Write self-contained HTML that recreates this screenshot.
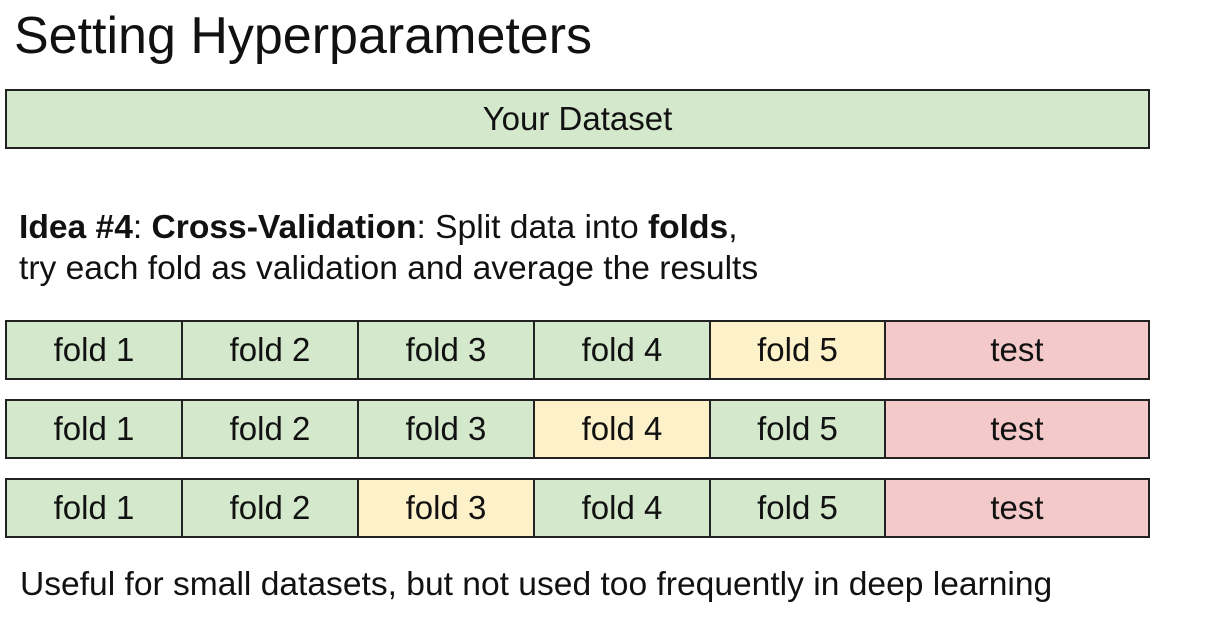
<!DOCTYPE html>
<html><head><meta charset="utf-8"><style>
body{margin:0;width:1230px;height:618px;background:#fff;position:relative;overflow:hidden;font-family:"Liberation Sans",Arial,sans-serif;color:#111}
.t{position:absolute;white-space:nowrap;line-height:1}
.box{position:absolute;box-sizing:border-box;border:2px solid #222;display:flex;align-items:center;justify-content:center;font-size:33px}
.g{background:#d4e8cc}.y{background:#fdf1c9}.r{background:#f3c9c9}
</style></head><body>
<div class="t" style="left:14px;top:10px;font-size:52px">Setting Hyperparameters</div>
<div class="box g" style="left:5px;top:89px;width:1145px;height:60px">Your Dataset</div>
<div class="t" style="left:19px;top:211px;font-size:33.6px"><b>Idea #4</b>: <b>Cross-Validation</b>: Split data into <b>folds</b>,</div>
<div class="t" style="left:19px;top:252px;font-size:33.6px">try each fold as validation and average the results</div>
<div id="rows"></div>
<div class="t" style="left:20px;top:568px;font-size:33.6px">Useful for small datasets, but not used too frequently in deep learning</div>
<script>
const rowTops=[320,399,478];
const valFold=[5,4,3];
const edges=[5,181,357,533,709,884,1150];
const labels=["fold 1","fold 2","fold 3","fold 4","fold 5","test"];
const c=document.getElementById('rows');
rowTops.forEach((top,ri)=>{
  labels.forEach((lab,i)=>{
    const d=document.createElement('div');
    let cls=i===5?'r':(i+1===valFold[ri]?'y':'g');
    d.className='box '+cls;
    
    
    d.style.left=edges[i]+'px';
    d.style.top=top+'px';
    d.style.width=(edges[i+1]-edges[i]+(i<5?2:0))+'px';
    d.style.height='60px';
    d.textContent=lab;
    c.appendChild(d);
  });
});
</script>
</body></html>
